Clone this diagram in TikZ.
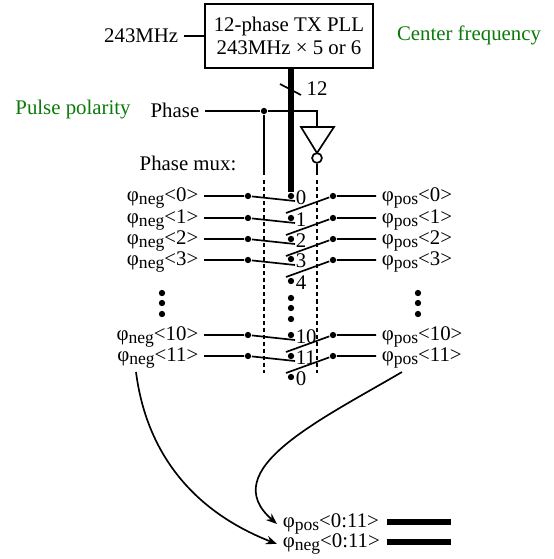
\documentclass[tikz,border=0pt]{standalone}
\usepackage{fontspec}
\setmainfont{Liberation Serif}
\usetikzlibrary{arrows.meta,positioning,calc}
\definecolor{notegreen}{HTML}{0A7A0A}
\newcommand{\subtxt}[1]{\raisebox{-0.35ex}{\fontsize{10}{11}\selectfont #1}}
\begin{document}
\begin{tikzpicture}[x=0.02cm, y=-0.02cm, line width=0.95pt, font=\fontsize{11.85}{13.2}\selectfont,
      plain/.style={inner sep=2.8pt},
      note/.style={text=notegreen, inner sep=0pt},
      lbox/.style={draw, align=center, minimum width=3.36cm, minimum height=1.28cm, inner sep=0pt},
      dot/.style={circle, fill=black, inner sep=0pt, minimum size=3.6pt},
      ctl/.style={densely dashed, dash pattern=on 2.3pt off 1.7pt},
      bus/.style={line width=3.4pt},
      arr/.style={-{Stealth[length=2.2mm,width=1.7mm]}}]
    \useasboundingbox (0,0) rectangle (554,559);
    \node[lbox] (pll) at (289,36) {12-phase TX PLL\\243MHz × 5 or 6};
    \node[plain, anchor=east] (refclk) at (184,36) {243MHz};
    \node[note] (cf) at (469,35) {Center frequency};
    \node[note] (pp) at (73,110) {Pulse polarity};
    \node[plain, anchor=east] (phase) at (205,110) {Phase};
    \node[inner sep=0pt] (muxlbl) at (188,163) {Phase mux:};
    \draw (refclk.east) -- (pll.west);

    % center taps
    \foreach \n/\y/\t in {0/196/0,1/218/1,2/239/2,3/259/3,4/281/4,10/335/10,11/356/11,12/377/0}{
      \node[dot] (tap\n) at (291,\y) {};
      \node[inner sep=0pt, anchor=west] (tl\n) at (295,\y+2) {\t};
    }
    \foreach \n/\y in {a/298,b/308,c/319}
      \node[dot] (td\n) at (291,\y) {};

    % bus and control
    \coordinate (bustop) at (pll.south -| tap0);
    \draw[bus] (bustop) -- (tap0);
    \coordinate (sa) at (280,84);
    \coordinate (sb) at (301,95);
    \draw (sa) -- (sb);
    \node[inner sep=0pt] (buswd) at (317,89) {12};
    \node[dot] (jn) at (264,111) {};
    \coordinate (invin) at (317,111);
    \coordinate (invtop) at (317,127);
    \draw (phase.east |- jn) -- (jn) -- (invin) -- (invtop);
    \draw (301,127) -- (334,127) -- (317,153) -- cycle;
    \node[draw, circle, inner sep=0pt, minimum size=5.6pt] (bubble) at (317,158) {};
    \coordinate (ja) at (264,175);
    \coordinate (jb) at (264,180);
    \coordinate (je) at (264,373);
    \coordinate (ka) at (317,175);
    \coordinate (kb) at (317,180);
    \coordinate (ke) at (317,373);
    \draw (jn) -- (ja);
    \draw (bubble) -- (ka);
    \draw[ctl] (jb) -- (je);
    \draw[ctl] (kb) -- (ke);

    % switches
    \foreach \n/\y in {0/196,1/218,2/239,3/260,10/335,11/356}{
      \node[plain, anchor=east] (neg\n) at (204,\y+2) {φ\subtxt{neg}<\n>};
      \node[plain, anchor=west] (pos\n) at (376,\y+2) {φ\subtxt{pos}<\n>};
      \node[dot] (nd\n) at (248,\y) {};
      \node[dot] (pd\n) at (333,\y) {};
      \coordinate (ne\n) at (295,\y+5);
      \coordinate (pe\n) at (286,\y+17);
      \draw (neg\n.east |- nd\n) -- (nd\n) -- (ne\n);
      \draw (pos\n.west |- pd\n) -- (pd\n) -- (pe\n);
    }
    \foreach \n/\y in {a/293,b/303,c/314}{
      \node[dot] (ld\n) at (162,\y) {};
      \node[dot] (rd\n) at (418,\y) {};
    }

    % outputs
    \node[plain, anchor=west] (posout) at (277,524) {φ\subtxt{pos}<0:11>};
    \node[plain, anchor=west] (negout) at (277,544) {φ\subtxt{neg}<0:11>};
    \coordinate (pb) at (387,522);
    \coordinate (pf) at (451,522);
    \coordinate (nb) at (387,542);
    \coordinate (nf) at (451,542);
    \draw[bus] (pb) -- (pf);
    \draw[bus] (nb) -- (nf);
    \coordinate (nfrom) at (136,372);
    \coordinate (pfrom) at (402,372);
    \draw[arr] (nfrom) .. controls (146,450) and (190,510) .. (negout.west);
    \draw[arr] (pfrom) .. controls (320,420) and (215,470) .. (posout.west);
\end{tikzpicture}
\end{document}
